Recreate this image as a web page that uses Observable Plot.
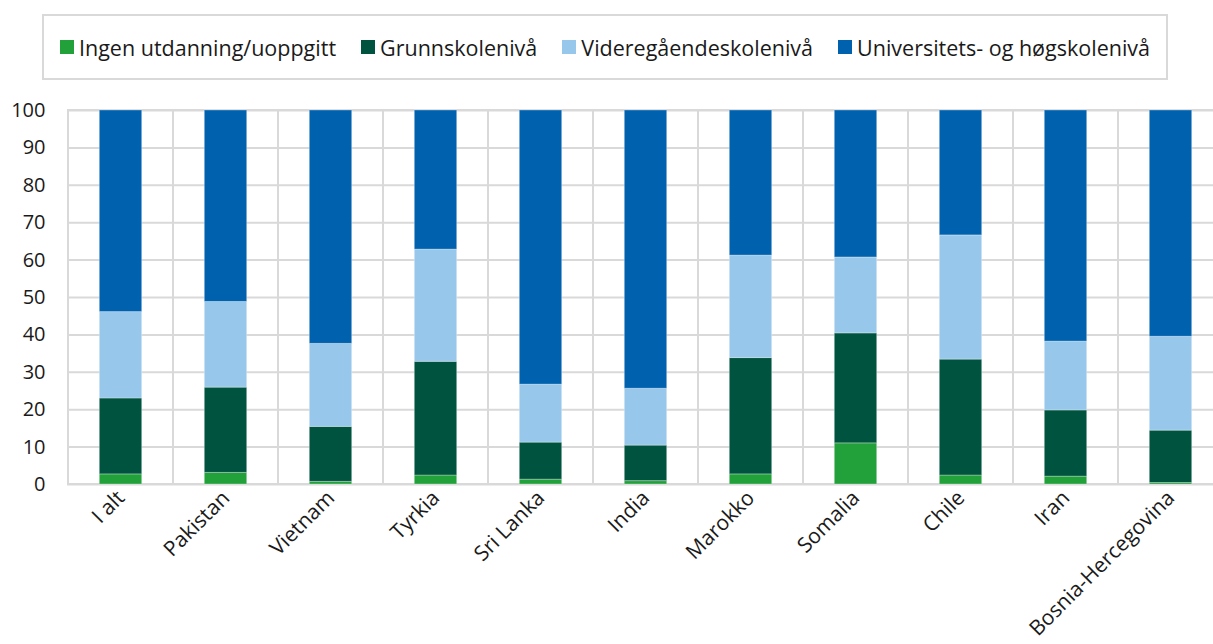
<!DOCTYPE html>
<html>
<head>
<meta charset="utf-8">
<script src="https://cdn.jsdelivr.net/npm/d3@7"></script>
<script src="https://cdn.jsdelivr.net/npm/@observablehq/plot@0.6"></script>
<style>
  html, body { margin: 0; padding: 0; background: #fff; }
  body { width: 1213px; height: 644px; position: relative; overflow: hidden; font-family: "Open Sans", sans-serif; }
  #legend {
    position: absolute; left: 42px; top: 14px; width: 1122px; height: 62px;
    border: 2px solid #d9d9d9; display: flex; align-items: center; justify-content: center;
    font-size: 21.5px; color: #1a1a1a; gap: 25px;
  }
  .item { display: flex; align-items: center; white-space: nowrap; }
  .sw { width: 14px; height: 14px; margin-right: 5px; display: inline-block; }
  #chart { position: absolute; left: 0; top: 90px; width: 1213px; overflow: hidden; }
</style>
</head>
<body>
<div id="legend"></div>
<div id="chart"></div>
<script>
const categories = ["I alt","Pakistan","Vietnam","Tyrkia","Sri Lanka","India","Marokko","Somalia","Chile","Iran","Bosnia-Hercegovina"];
const series = ["Ingen utdanning/uoppgitt","Grunnskolenivå","Videregåendeskolenivå","Universitets- og høgskolenivå"];
const colors = ["#22a03a","#00543f","#97c7eb","#0062ae"];
const ingen = [2.7, 3.1, 0.7, 2.4, 1.3, 0.9, 2.7, 11.0, 2.4, 2.1, 0.4];
const grunn = [20.3, 22.8, 14.7, 30.4, 9.9, 9.5, 31.1, 29.4, 31.0, 17.7, 14.0];
const vgs = [23.1, 22.9, 22.2, 30.0, 15.5, 15.2, 27.4, 20.3, 33.2, 18.4, 25.1];
const uni = [53.9, 51.2, 62.4, 37.2, 73.3, 74.4, 38.8, 39.3, 33.4, 61.8, 60.5];
const yTicks = [0,10,20,30,40,50,60,70,80,90,100];

const seriesValues = [ingen, grunn, vgs, uni];
const rows = categories.flatMap((c, i) => series.map((s, j) => ({cat: c, series: s, value: seriesValues[j][i]})));

const legend = document.getElementById("legend");
series.forEach((s, j) => {
  const it = document.createElement("div");
  it.className = "item";
  it.innerHTML = `<span class="sw" style="background:${colors[j]}"></span><span>${s}</span>`;
  legend.appendChild(it);
});

const chart = Plot.plot({
  width: 1223,
  height: 554,
  marginTop: 20,
  marginBottom: 160,
  marginLeft: 67,
  marginRight: 0,
  style: {fontFamily: "Open Sans, sans-serif", fontSize: "20px", color: "#1a1a1a", background: "#fff", maxWidth: "none"},
  x: {domain: categories, padding: 0},
  y: {domain: [0, 100]},
  color: {domain: series, range: colors},
  marks: [
    Plot.ruleY(yTicks, {stroke: "#d9d9d9", strokeWidth: 2}),
    Plot.barY(categories, {x: d => d, y1: 0, y2: 100, fill: "none", stroke: "#d9d9d9", strokeWidth: 2}),
    Plot.barY(rows, {x: "cat", y: "value", fill: "series", insetLeft: 31.3, insetRight: 31.3, stroke: "#fff", strokeOpacity: 0.3, strokeWidth: 1}),
    Plot.axisY({ticks: yTicks, label: null, tickSize: 0, tickPadding: 22, fontSize: 20}),
    Plot.axisX({label: null, tickRotate: -45, tickSize: 0, tickPadding: 10, fontSize: 21})
  ]
});
document.getElementById("chart").appendChild(chart);
</script>
</body>
</html>
